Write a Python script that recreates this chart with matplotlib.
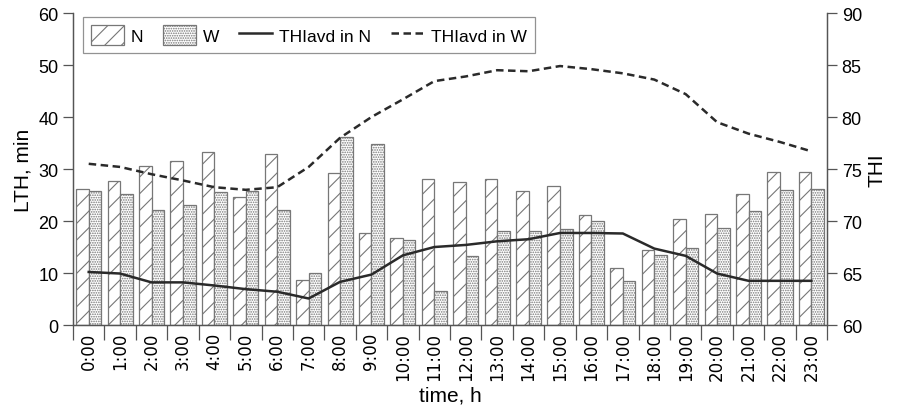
import numpy as np
import matplotlib.pyplot as plt
import matplotlib as mpl

hours = ['%d:00' % h for h in range(24)]

# LTH, min
lth_n = [26.2, 27.6, 30.5, 31.5, 33.2, 24.6, 32.9, 8.7, 29.2, 17.7, 16.7, 28.1,
         27.5, 28.1, 25.7, 26.8, 21.2, 10.9, 14.4, 20.4, 21.3, 25.2, 29.4, 29.4]
lth_w = [25.7, 25.2, 22.2, 23.1, 25.6, 25.7, 22.1, 10.0, 36.1, 34.8, 16.4, 6.6,
         13.3, 18.1, 18.1, 18.4, 20.0, 8.4, 13.5, 14.8, 18.7, 21.9, 25.9, 26.2]

# THI averages
thi_n = [65.1, 64.95, 64.1, 64.1, 63.8, 63.45, 63.2, 62.55, 64.15, 64.85, 66.7, 67.5,
         67.7, 68.05, 68.25, 68.85, 68.85, 68.8, 67.35, 66.65, 64.95, 64.25, 64.25, 64.25]
thi_w = [75.5, 75.2, 74.5, 73.9, 73.25, 73.0, 73.25, 75.2, 78.0, 80.0, 81.7, 83.45,
         83.9, 84.5, 84.4, 84.9, 84.6, 84.2, 83.6, 82.2, 79.5, 78.4, 77.6, 76.7]

plt.rcParams['font.family'] = 'Liberation Sans'
plt.rcParams['hatch.color'] = '#666666'
plt.rcParams['hatch.linewidth'] = 0.8
gray = '#555555'

fig = plt.figure(figsize=(8.99, 4.06), dpi=100)
ax = fig.add_axes([0.0812, 0.197, 0.8388, 0.7685])
ax2 = ax.twinx()

x = np.arange(len(hours))
w = 0.4
b1 = ax.bar(x - w/2, lth_n, w, color='white', edgecolor='#777777', linewidth=0.9,
            hatch='//', label='N')
b2 = ax.bar(x + w/2, lth_w, w, color='white', edgecolor='#777777', linewidth=0.9,
            hatch='.......', label='W')

l1, = ax2.plot(x, thi_n, color='#2a2a2a', linewidth=1.8, label='THIavd in N')
l2, = ax2.plot(x, thi_w, color='#2a2a2a', linewidth=1.8, linestyle=(0, (3, 1.8)),
               label='THIavd in W')

ax.set_xlim(-0.5, 23.5)
ax.set_ylim(0, 60)
ax2.set_ylim(60, 90)
ax.set_yticks(range(0, 61, 10))
ax2.set_yticks(range(60, 91, 5))

ax.set_xticks(x)
ax.set_xticklabels(hours, rotation=90, fontsize=12, family='DejaVu Sans')
ax.set_xticks(np.arange(-0.5, 24, 1), minor=True)
ax.tick_params(axis='x', which='major', length=0, pad=5)
ax.tick_params(axis='x', which='minor', length=11, width=0.9, color=gray)
ax.tick_params(axis='y', labelsize=13, length=7, width=0.9, color=gray)
ax2.tick_params(axis='y', labelsize=13, length=7, width=0.9, color=gray)

for a in (ax, ax2):
    a.spines['top'].set_visible(False)
    for s in ('left', 'right', 'bottom'):
        a.spines[s].set_color(gray)
        a.spines[s].set_linewidth(0.9)

ax.set_ylabel('LTH, min', fontsize=15)
ax2.set_ylabel('THI', fontsize=15)
ax.set_xlabel('time, h', fontsize=15)

leg = ax.legend([b1, b2, l1, l2], ['N', 'W', 'THIavd in N', 'THIavd in W'],
                ncol=4, loc='upper left', bbox_to_anchor=(0.013, 0.987), borderaxespad=0,
                fontsize=12.5, frameon=True, fancybox=False, handlelength=1.9,
                handleheight=1.4, columnspacing=1.15, handletextpad=0.4, borderpad=0.45)
leg.get_frame().set_edgecolor('#777777')
leg.get_frame().set_linewidth(0.9)

fig.savefig('out.png', dpi=100)
